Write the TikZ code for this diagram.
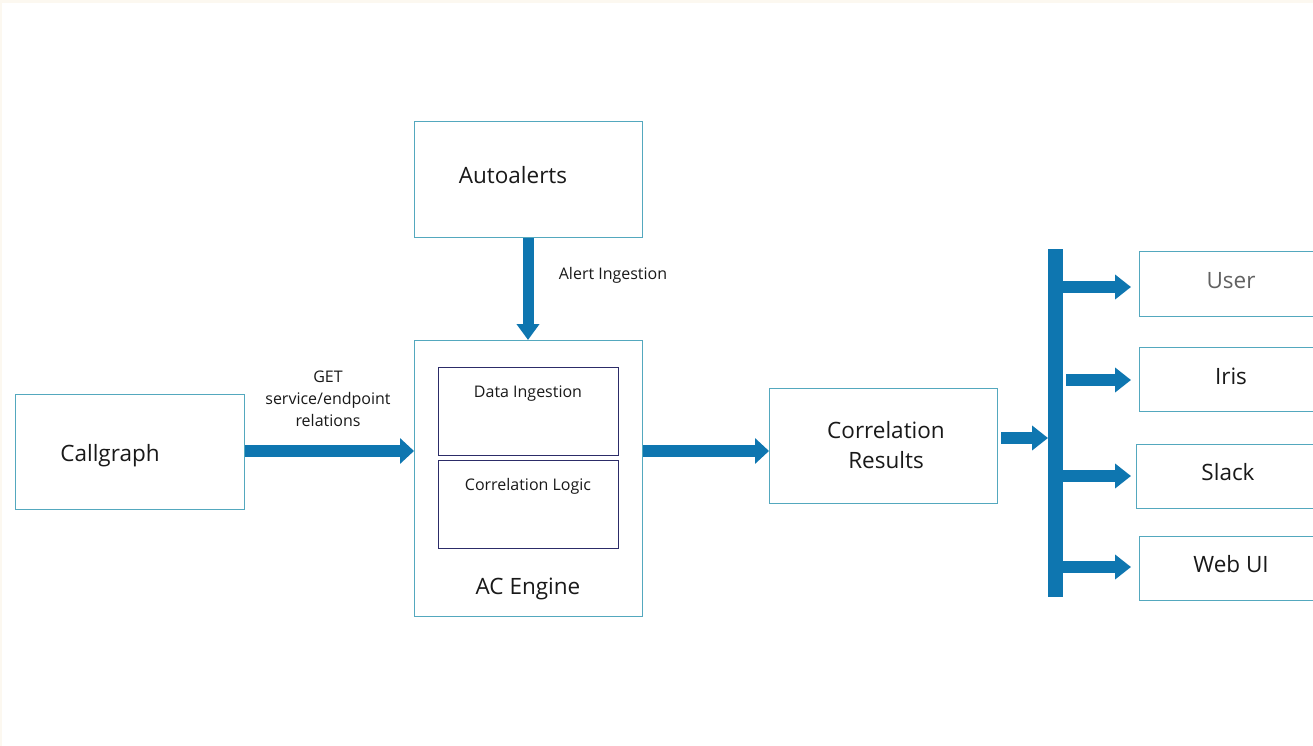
\documentclass[tikz,border=0pt]{standalone}
\usepackage{fontspec}
\setmainfont{Open Sans}
\usetikzlibrary{arrows.meta,calc}
\definecolor{boxc}{RGB}{84,168,190}
\definecolor{innerc}{RGB}{44,44,104}
\definecolor{arrc}{RGB}{14,118,176}
\definecolor{txtc}{RGB}{25,25,25}
\definecolor{cream}{RGB}{252,248,240}
\tikzset{
  box/.style={draw=boxc, line width=1.3pt, rectangle, inner sep=0pt, anchor=north west},
  innerbox/.style={draw=innerc, line width=1.3pt, rectangle, inner sep=0pt, anchor=north west},
  big/.style={font=\fontsize{22.5}{26}\selectfont, text=txtc, inner sep=0pt, align=center, yshift=-2.5pt},
  small/.style={font=\fontsize{16}{22}\selectfont, text=txtc, inner sep=0pt, align=center, yshift=-2pt},
  fatarrow/.style={draw=arrc, line width=12pt, -{Triangle[width=25pt,length=14pt]}},
  downarrow/.style={draw=arrc, line width=11pt, -{Triangle[width=22pt,length=16pt]}},
  brarrow/.style={draw=arrc, line width=12pt, -{Triangle[width=24pt,length=16pt]}},
}
\begin{document}
\begin{tikzpicture}[x=1pt,y=-1pt]
\clip (0,0) rectangle (1313,746);
\fill[cream] (0,0) rectangle (1313,746);
\fill[white] (2,3) rectangle (1313,746);

% boxes
\node[box, minimum width=228pt, minimum height=116pt] (auto) at (414,121) {};
\node[box, minimum width=228pt, minimum height=276pt] (ac) at (414,340) {};
\node[innerbox, minimum width=180pt, minimum height=88pt] (di) at (438,367) {};
\node[innerbox, minimum width=180pt, minimum height=88pt] (cl) at (438,460) {};
\node[box, minimum width=229pt, minimum height=115pt] (call) at (15,394) {};
\node[box, minimum width=228pt, minimum height=115pt] (corr) at (769,388) {};
\node[box, minimum width=185pt, minimum height=65pt] (user) at (1139,251) {};
\node[box, minimum width=185pt, minimum height=64pt] (iris) at (1139,347) {};
\node[box, minimum width=188pt, minimum height=64pt] (slack) at (1136,444) {};
\node[box, minimum width=185pt, minimum height=64pt] (web) at (1139,536) {};
\node[fill=arrc, minimum width=15pt, minimum height=348pt, inner sep=0pt, anchor=north west] (bar) at (1048,249) {};

% texts
\node[big] (autoT) at (513,173) {Autoalerts};
\node[big] (acT) at (528,586) {AC Engine};
\node[small] (diT) at (528,392) {Data Ingestion};
\node[small] (clT) at (528,484) {Correlation Logic};
\node[big] (callT) at (110,453) {Callgraph};
\node[big, font=\fontsize{22.5}{30}\selectfont] (corrT) at (886,443) {Correlation\\Results};
\node[big, text=black!62] (userT) at (1231,278) {User};
\node[big] (irisT) at (1231,374) {Iris};
\node[big] (slackT) at (1228,470) {Slack};
\node[big] (webT) at (1231,562) {Web UI};
\node[small] (alertL) at (613,273) {Alert Ingestion};
\node[small] (getL) at (328,397) {GET\\service/endpoint\\relations};

% connectors
\coordinate (yline) at (0,451);
\draw[downarrow] (auto.south -| 528,0) -- (ac.north -| 528,0);
\draw[fatarrow] (call.east |- yline) -- (ac.west |- yline);
\draw[fatarrow] (ac.east |- yline) -- (corr.west |- yline);
\coordinate (yc) at (0,438);
\draw[brarrow] ($(corr.east |- yc)+(3,0)$) -- (bar.west |- yc);
\coordinate (y1) at (0,287);
\coordinate (y2) at (0,380);
\coordinate (y3) at (0,476);
\coordinate (y4) at (0,567);
\draw[brarrow, shorten >=8pt] (bar.east |- y1) -- (user.west |- y1);
\draw[brarrow, shorten >=8pt] ($(bar.east |- y2)+(3,0)$) -- (iris.west |- y2);
\draw[brarrow, shorten >=5pt] (bar.east |- y3) -- (slack.west |- y3);
\draw[brarrow, shorten >=8pt] (bar.east |- y4) -- (web.west |- y4);
\end{tikzpicture}
\end{document}
